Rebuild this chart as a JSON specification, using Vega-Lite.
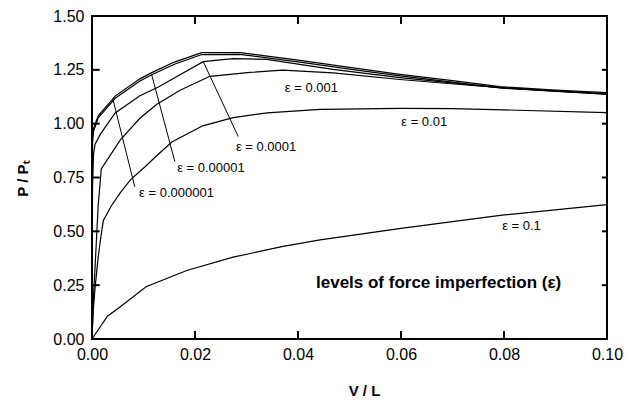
{
  "$schema": "https://vega.github.io/schema/vega-lite/v6.json",
  "width": 515,
  "height": 323,
  "autosize": "none",
  "padding": {"left": 92, "top": 16, "right": 20, "bottom": 64},
  "background": "white",
  "config": {
    "view": {"stroke": "black", "strokeWidth": 2},
    "font": "Liberation Sans",
    "axis": {
      "grid": false,
      "domain": false,
      "ticks": false,
      "labelFlush": false,
      "labelFont": "Liberation Sans",
      "labelFontSize": 16,
      "labelColor": "black",
      "titleFont": "Liberation Sans",
      "titleFontSize": 15,
      "titleFontWeight": "bold",
      "titleColor": "black"
    }
  },
  "datasets": {
    "curves": [
      {"eps": "1e-6", "x": 0, "y": 0}, {"eps": "1e-6", "x": 0.00003, "y": 0.8}, {"eps": "1e-6", "x": 0.0001, "y": 0.93}, {"eps": "1e-6", "x": 0.00025, "y": 0.975}, {"eps": "1e-6", "x": 0.0012, "y": 1.036}, {"eps": "1e-6", "x": 0.0045, "y": 1.128}, {"eps": "1e-6", "x": 0.0093, "y": 1.208}, {"eps": "1e-6", "x": 0.0116, "y": 1.237}, {"eps": "1e-6", "x": 0.016, "y": 1.286}, {"eps": "1e-6", "x": 0.0213, "y": 1.33}, {"eps": "1e-6", "x": 0.0287, "y": 1.33}, {"eps": "1e-6", "x": 0.0404, "y": 1.294}, {"eps": "1e-6", "x": 0.05, "y": 1.261}, {"eps": "1e-6", "x": 0.0598, "y": 1.229}, {"eps": "1e-6", "x": 0.07, "y": 1.2}, {"eps": "1e-6", "x": 0.0792, "y": 1.172}, {"eps": "1e-6", "x": 0.09, "y": 1.156}, {"eps": "1e-6", "x": 0.1, "y": 1.144},
      {"eps": "1e-5", "x": 0, "y": 0}, {"eps": "1e-5", "x": 0.00004, "y": 0.78}, {"eps": "1e-5", "x": 0.00012, "y": 0.92}, {"eps": "1e-5", "x": 0.0003, "y": 0.965}, {"eps": "1e-5", "x": 0.0012, "y": 1.027}, {"eps": "1e-5", "x": 0.0045, "y": 1.118}, {"eps": "1e-5", "x": 0.0093, "y": 1.198}, {"eps": "1e-5", "x": 0.0116, "y": 1.227}, {"eps": "1e-5", "x": 0.016, "y": 1.276}, {"eps": "1e-5", "x": 0.0213, "y": 1.321}, {"eps": "1e-5", "x": 0.0287, "y": 1.322}, {"eps": "1e-5", "x": 0.0404, "y": 1.286}, {"eps": "1e-5", "x": 0.05, "y": 1.253}, {"eps": "1e-5", "x": 0.0598, "y": 1.222}, {"eps": "1e-5", "x": 0.07, "y": 1.193}, {"eps": "1e-5", "x": 0.0792, "y": 1.166}, {"eps": "1e-5", "x": 0.09, "y": 1.15}, {"eps": "1e-5", "x": 0.1, "y": 1.138},
      {"eps": "1e-4", "x": 0, "y": 0}, {"eps": "1e-4", "x": 0.0001, "y": 0.7}, {"eps": "1e-4", "x": 0.0003, "y": 0.86}, {"eps": "1e-4", "x": 0.0006, "y": 0.905}, {"eps": "1e-4", "x": 0.0016, "y": 0.95}, {"eps": "1e-4", "x": 0.0045, "y": 1.05}, {"eps": "1e-4", "x": 0.0093, "y": 1.13}, {"eps": "1e-4", "x": 0.0129, "y": 1.17}, {"eps": "1e-4", "x": 0.0158, "y": 1.21}, {"eps": "1e-4", "x": 0.0216, "y": 1.288}, {"eps": "1e-4", "x": 0.0274, "y": 1.302}, {"eps": "1e-4", "x": 0.0339, "y": 1.299}, {"eps": "1e-4", "x": 0.0468, "y": 1.252}, {"eps": "1e-4", "x": 0.0598, "y": 1.214}, {"eps": "1e-4", "x": 0.08, "y": 1.165}, {"eps": "1e-4", "x": 0.1, "y": 1.139},
      {"eps": "1e-3", "x": 0, "y": 0}, {"eps": "1e-3", "x": 0.0003, "y": 0.2}, {"eps": "1e-3", "x": 0.0008, "y": 0.43}, {"eps": "1e-3", "x": 0.0012, "y": 0.62}, {"eps": "1e-3", "x": 0.0018, "y": 0.79}, {"eps": "1e-3", "x": 0.0055, "y": 0.925}, {"eps": "1e-3", "x": 0.0093, "y": 1.025}, {"eps": "1e-3", "x": 0.0126, "y": 1.09}, {"eps": "1e-3", "x": 0.0171, "y": 1.155}, {"eps": "1e-3", "x": 0.0229, "y": 1.22}, {"eps": "1e-3", "x": 0.0307, "y": 1.238}, {"eps": "1e-3", "x": 0.037, "y": 1.249}, {"eps": "1e-3", "x": 0.0468, "y": 1.236}, {"eps": "1e-3", "x": 0.0598, "y": 1.205}, {"eps": "1e-3", "x": 0.075, "y": 1.175}, {"eps": "1e-3", "x": 0.1, "y": 1.136},
      {"eps": "1e-2", "x": 0, "y": 0}, {"eps": "1e-2", "x": 0.0002, "y": 0.12}, {"eps": "1e-2", "x": 0.0006, "y": 0.24}, {"eps": "1e-2", "x": 0.0012, "y": 0.38}, {"eps": "1e-2", "x": 0.0017, "y": 0.47}, {"eps": "1e-2", "x": 0.0022, "y": 0.55}, {"eps": "1e-2", "x": 0.0038, "y": 0.62}, {"eps": "1e-2", "x": 0.0055, "y": 0.68}, {"eps": "1e-2", "x": 0.0075, "y": 0.74}, {"eps": "1e-2", "x": 0.0103, "y": 0.8}, {"eps": "1e-2", "x": 0.0125, "y": 0.85}, {"eps": "1e-2", "x": 0.0155, "y": 0.915}, {"eps": "1e-2", "x": 0.0215, "y": 0.99}, {"eps": "1e-2", "x": 0.0274, "y": 1.028}, {"eps": "1e-2", "x": 0.034, "y": 1.05}, {"eps": "1e-2", "x": 0.0443, "y": 1.066}, {"eps": "1e-2", "x": 0.06, "y": 1.071}, {"eps": "1e-2", "x": 0.07, "y": 1.07}, {"eps": "1e-2", "x": 0.08, "y": 1.064}, {"eps": "1e-2", "x": 0.1, "y": 1.051},
      {"eps": "1e-1", "x": 0, "y": 0}, {"eps": "1e-1", "x": 0.003, "y": 0.106}, {"eps": "1e-1", "x": 0.0055, "y": 0.15}, {"eps": "1e-1", "x": 0.0105, "y": 0.243}, {"eps": "1e-1", "x": 0.0184, "y": 0.318}, {"eps": "1e-1", "x": 0.0274, "y": 0.38}, {"eps": "1e-1", "x": 0.0371, "y": 0.43}, {"eps": "1e-1", "x": 0.0443, "y": 0.46}, {"eps": "1e-1", "x": 0.06, "y": 0.514}, {"eps": "1e-1", "x": 0.08, "y": 0.576}, {"eps": "1e-1", "x": 0.1, "y": 0.624}
    ],
    "leaders": [
      {"x": 0.0041, "y": 1.11, "x2": 0.0083, "y2": 0.707},
      {"x": 0.0116, "y": 1.226, "x2": 0.0161, "y2": 0.823},
      {"x": 0.0216, "y": 1.288, "x2": 0.0284, "y2": 0.94}
    ],
    "tickpaths": [
      {"id": "b2", "x": 0.02, "y": 0}, {"id": "b2", "x": 0.02, "y": 0.037},
      {"id": "b4", "x": 0.04, "y": 0}, {"id": "b4", "x": 0.04, "y": 0.037},
      {"id": "b6", "x": 0.06, "y": 0}, {"id": "b6", "x": 0.06, "y": 0.037},
      {"id": "b8", "x": 0.08, "y": 0}, {"id": "b8", "x": 0.08, "y": 0.037},
      {"id": "t2", "x": 0.02, "y": 1.5}, {"id": "t2", "x": 0.02, "y": 1.463},
      {"id": "t4", "x": 0.04, "y": 1.5}, {"id": "t4", "x": 0.04, "y": 1.463},
      {"id": "t6", "x": 0.06, "y": 1.5}, {"id": "t6", "x": 0.06, "y": 1.463},
      {"id": "t8", "x": 0.08, "y": 1.5}, {"id": "t8", "x": 0.08, "y": 1.463},
      {"id": "l1", "x": 0, "y": 0.25}, {"id": "l1", "x": 0.0015, "y": 0.25},
      {"id": "l2", "x": 0, "y": 0.5}, {"id": "l2", "x": 0.0015, "y": 0.5},
      {"id": "l3", "x": 0, "y": 0.75}, {"id": "l3", "x": 0.0015, "y": 0.75},
      {"id": "l4", "x": 0, "y": 1}, {"id": "l4", "x": 0.0015, "y": 1},
      {"id": "l5", "x": 0, "y": 1.25}, {"id": "l5", "x": 0.0015, "y": 1.25},
      {"id": "r1", "x": 0.1, "y": 0.25}, {"id": "r1", "x": 0.099, "y": 0.25},
      {"id": "r2", "x": 0.1, "y": 0.5}, {"id": "r2", "x": 0.099, "y": 0.5},
      {"id": "r3", "x": 0.1, "y": 0.75}, {"id": "r3", "x": 0.099, "y": 0.75},
      {"id": "r4", "x": 0.1, "y": 1}, {"id": "r4", "x": 0.099, "y": 1},
      {"id": "r5", "x": 0.1, "y": 1.25}, {"id": "r5", "x": 0.099, "y": 1.25}
    ],
    "labels": [
      {"x": 0.0164, "y": 0.678, "t": "ε = 0.000001"},
      {"x": 0.0231, "y": 0.794, "t": "ε = 0.00001"},
      {"x": 0.0338, "y": 0.892, "t": "ε = 0.0001"},
      {"x": 0.0426, "y": 1.164, "t": "ε = 0.001"},
      {"x": 0.0645, "y": 1.006, "t": "ε = 0.01"},
      {"x": 0.0834, "y": 0.525, "t": "ε = 0.1"}
    ],
    "note": [
      {"x": 0.0673, "y": 0.259, "t": "levels of force imperfection (ε)"}
    ]
  },
  "layer": [
    {
      "data": {"name": "curves"},
      "mark": {"type": "line", "color": "black", "strokeWidth": 1.2},
      "encoding": {
        "x": {"field": "x", "type": "quantitative", "scale": {"domain": [0, 0.1], "nice": false},
              "axis": {"orient": "bottom", "values": [0, 0.02, 0.04, 0.06, 0.08, 0.1], "format": ".2f", "title": "V / L", "labelPadding": 7, "titleX": 272, "titleY": 51, "titleBaseline": "middle"}},
        "y": {"field": "y", "type": "quantitative", "scale": {"domain": [0, 1.5], "nice": false},
              "axis": {"orient": "left", "values": [0, 0.25, 0.5, 0.75, 1, 1.25, 1.5], "format": ".2f", "title": "P / Pₜ", "labelPadding": 8, "titleX": -70, "titleY": 162, "titleBaseline": "middle", "titleAngle": -90}},
        "detail": {"field": "eps"}
      }
    },
    {
      "data": {"name": "tickpaths"},
      "mark": {"type": "line", "color": "black", "strokeWidth": 2},
      "encoding": {
        "x": {"field": "x", "type": "quantitative"},
        "y": {"field": "y", "type": "quantitative"},
        "detail": {"field": "id"}
      }
    },
    {
      "data": {"name": "leaders"},
      "mark": {"type": "rule", "color": "black", "strokeWidth": 1},
      "encoding": {
        "x": {"field": "x", "type": "quantitative"},
        "y": {"field": "y", "type": "quantitative"},
        "x2": {"field": "x2"},
        "y2": {"field": "y2"}
      }
    },
    {
      "data": {"name": "labels"},
      "mark": {"type": "text", "font": "Liberation Sans", "fontSize": 13, "color": "black", "align": "center", "baseline": "middle"},
      "encoding": {
        "x": {"field": "x", "type": "quantitative"},
        "y": {"field": "y", "type": "quantitative"},
        "text": {"field": "t"}
      }
    },
    {
      "data": {"name": "note"},
      "mark": {"type": "text", "font": "Liberation Sans", "fontSize": 17, "fontWeight": "bold", "color": "black", "align": "center", "baseline": "middle"},
      "encoding": {
        "x": {"field": "x", "type": "quantitative"},
        "y": {"field": "y", "type": "quantitative"},
        "text": {"field": "t"}
      }
    }
  ]
}
